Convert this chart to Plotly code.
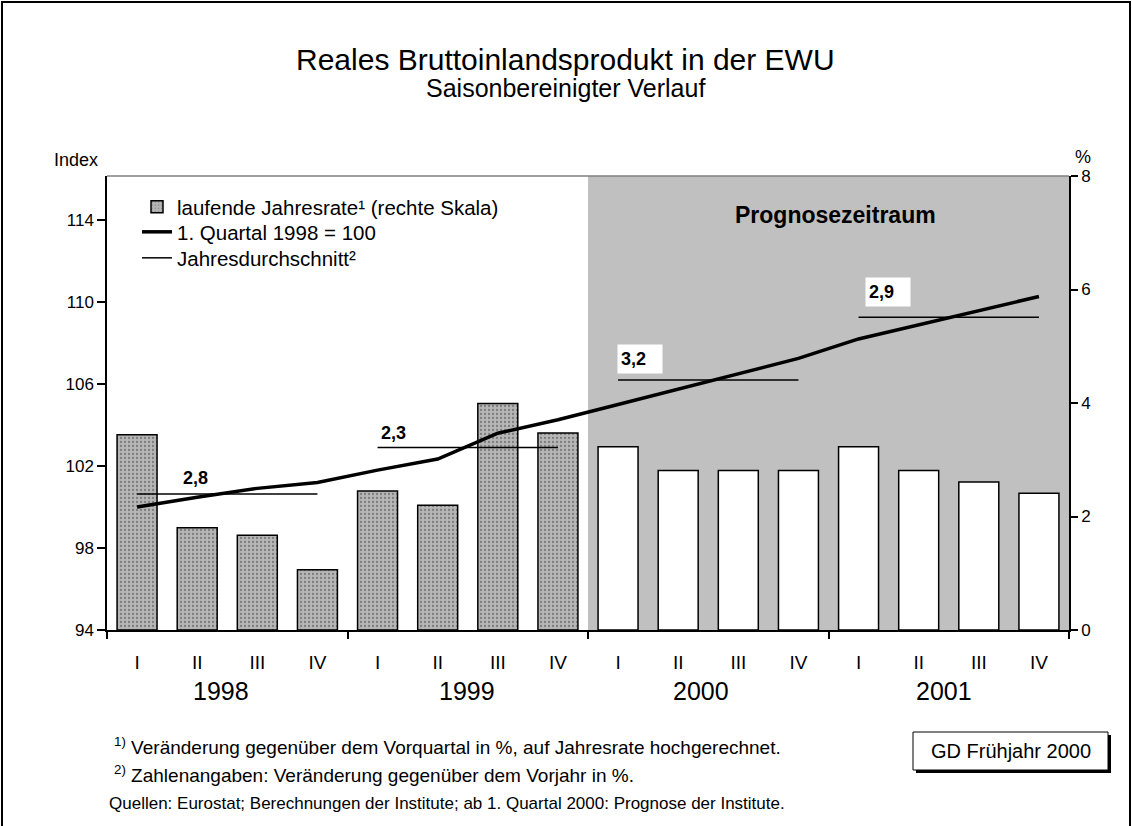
import plotly.graph_objects as go

# ---------------- data ----------------
quarters = ["I", "II", "III", "IV"] * 4
years = ["1998", "1999", "2000", "2001"]
growth_rate = [3.44, 1.80, 1.67, 1.06, 2.45, 2.20, 3.99, 3.47,
               3.23, 2.81, 2.81, 2.81, 3.23, 2.81, 2.61, 2.41]
index_q1_1998 = [100.0, 100.48, 100.91, 101.20, 101.80, 102.34, 103.60, 104.26,
                 105.00, 105.75, 106.50, 107.25, 108.20, 108.88, 109.57, 110.27]
annual_avg_level = [100.63, 102.91, 106.20, 109.26]
annual_change = ["2,8", "2,3", "3,2", "2,9"]
forecast_start = 8  # first forecast quarter (2000 I)

FONT = "Arial, Liberation Sans, sans-serif"
xq = list(range(len(quarters)))

# per-bar styling: historical patterned grey, forecast white
bar_colors = ["#b6b6b6" if i < forecast_start else "white" for i in xq]
bar_patterns = ["." if i < forecast_start else "" for i in xq]

# annual average segments (Q1..Q4 of each year)
avg_x, avg_y = [], []
for k, v in enumerate(annual_avg_level):
    avg_x += [4 * k, 4 * k + 3, None]
    avg_y += [v, v, None]

fig = go.Figure()
fig.add_trace(go.Bar(
    x=xq, y=growth_rate, width=0.665, yaxis="y", legend="legend",
    name="laufende Jahresrate¹ (rechte Skala)",
    marker=dict(color=bar_colors, line=dict(color="black", width=1.5),
                pattern=dict(shape=bar_patterns, fillmode="overlay",
                             fgcolor="#6e6e6e", size=4, solidity=0.25)),
))
fig.add_trace(go.Scatter(
    x=xq, y=index_q1_1998, yaxis="y2", mode="lines", legend="legend2",
    name="1. Quartal 1998 = 100", line=dict(color="black", width=3.5),
))
fig.add_trace(go.Scatter(
    x=avg_x, y=avg_y, yaxis="y2", mode="lines", legend="legend3",
    name="Jahresdurchschnitt²", line=dict(color="black", width=1.5),
))

# ---------------- layout ----------------
L, R, T, B = 107, 1069, 176, 630
PW, PH = R - L, B - T
def px(x):
    return (x - L) / PW
def py(y):
    return (B - y) / PH

shapes = [
    # forecast shading
    dict(type="rect", xref="x", yref="paper", x0=forecast_start - 0.5, x1=15.5,
         y0=0, y1=1, fillcolor="#c0c0c0", line=dict(width=0), layer="below"),
    # top border of plot
    dict(type="line", xref="paper", yref="paper", x0=0, x1=1, y0=1, y1=1,
         line=dict(color="#808080", width=1.5)),
    # outer frame
    dict(type="rect", xref="paper", yref="paper", x0=px(2), x1=px(1130),
         y0=py(840), y1=py(2), line=dict(color="black", width=2)),
    # GD box shadow + box
    dict(type="rect", xref="paper", yref="paper", x0=px(916), x1=px(1111),
         y0=py(773), y1=py(735), fillcolor="black", line=dict(width=0)),
    dict(type="rect", xref="paper", yref="paper", x0=px(913), x1=px(1108),
         y0=py(770), y1=py(732), fillcolor="white", line=dict(color="black", width=1)),
]

ann = []
def add_text(text, x, y, size, xanchor="center", bold=False):
    t = f"<b>{text}</b>" if bold else text
    ann.append(dict(text=t, x=x, y=y, xref="paper", yref="paper", showarrow=False,
                    xanchor=xanchor, yanchor="middle",
                    font=dict(family=FONT, size=size, color="black")))

add_text("Reales Bruttoinlandsprodukt in der EWU", px(565), py(59), 30)
add_text("Saisonbereinigter Verlauf", px(565), py(88), 25)
add_text("Index", px(76), py(160), 18)
add_text("%", px(1083), py(157), 18)
add_text("Prognosezeitraum", px(835), py(215), 23, bold=True)

# year labels under the quarters
year_pos = [221, 467, 701, 944]
for yr, xp in zip(years, year_pos):
    add_text(yr, px(xp), py(691), 25)

# annual change labels
label_px = [(181, 478), (379, 433), (617, 359), (865, 292)]
for k, (txt, (lx, ly)) in enumerate(zip(annual_change, label_px)):
    a = dict(text=f"<b>{txt}</b>", x=px(lx), y=py(ly), xref="paper", yref="paper",
             showarrow=False, xanchor="left", yanchor="middle", align="left",
             font=dict(family=FONT, size=18, color="black"))
    if 4 * k >= forecast_start:
        a.update(bgcolor="white", width=38, height=22, borderpad=3)
    ann.append(a)

add_text("<sup>1)</sup> Veränderung gegenüber dem Vorquartal in %, auf Jahresrate hochgerechnet.",
         px(112), py(746), 19, xanchor="left")
add_text("<sup>2)</sup> Zahlenangaben: Veränderung gegenüber dem Vorjahr in %.",
         px(112), py(774), 19, xanchor="left")
add_text("Quellen: Eurostat; Berechnungen der Institute; ab 1. Quartal 2000: Prognose der Institute.",
         px(107), py(803), 17, xanchor="left")
add_text("GD Frühjahr 2000", px(1011), py(751), 20)

axis_common = dict(showgrid=False, zeroline=False, showline=True, linecolor="black",
                   linewidth=1.5, ticks="outside", tickcolor="black", tickwidth=1.5,
                   tickfont=dict(family=FONT, size=17, color="black"))

def leg(y):
    return dict(x=px(137), y=py(y), xanchor="left", yanchor="middle",
                bgcolor="rgba(0,0,0,0)", borderwidth=0,
                font=dict(family=FONT, size=20.5, color="black"), itemwidth=30)

fig.update_layout(
    width=1132, height=826,
    margin=dict(l=L, r=1132 - R, t=T, b=826 - B, autoexpand=False),
    paper_bgcolor="white", plot_bgcolor="white",
    font=dict(family=FONT, color="black"),
    showlegend=True,
    legend=leg(207), legend2=leg(232), legend3=leg(258),
    xaxis=dict(range=[-0.5, 15.5], tickmode="array", tickvals=xq, ticktext=quarters,
               showgrid=False, zeroline=False, showline=True, linecolor="black",
               linewidth=1.5, ticks="", ticklabelstandoff=14,
               tickfont=dict(family=FONT, size=19, color="black"),
               minor=dict(tickmode="array", tickvals=[-0.5, 3.5, 7.5, 11.5, 15.5],
                          ticks="outside", ticklen=7, tickcolor="black", tickwidth=1.5)),
    yaxis=dict(range=[0, 8], tick0=0, dtick=2, side="right", ticklen=7, **axis_common),
    yaxis2=dict(range=[94, 116.15], tick0=94, dtick=4, side="left", overlaying="y",
                ticklen=8, **axis_common),
    shapes=shapes,
    annotations=ann,
)

fig.write_html("out.html", config={"displayModeBar": False},
               post_script="document.body.style.margin='0';")
